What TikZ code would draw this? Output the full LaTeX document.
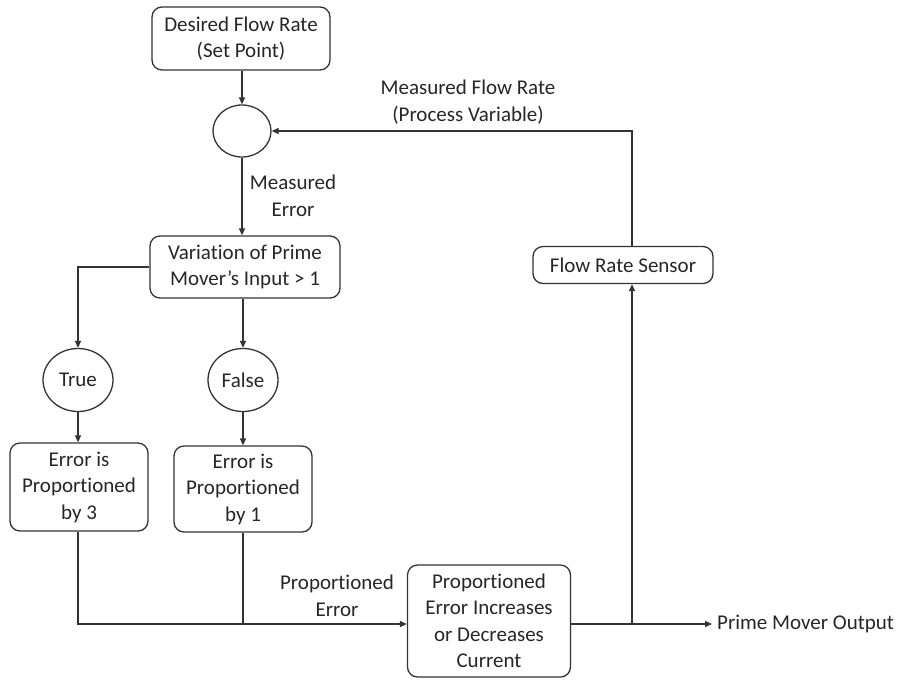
\documentclass[tikz,border=0pt]{standalone}
\usepackage{fontspec}
\setmainfont{Carlito}[Ligatures=NoCommon]
\usetikzlibrary{shapes.geometric,arrows.meta}
\begin{document}
\begin{tikzpicture}[x=1pt,y=-1pt,
  every node/.style={font=\fontsize{21}{26.5}\selectfont, align=center, inner sep=0pt, text=black!85},
  blockbox/.style={draw=black!80, line width=1.3pt, rounded corners=10pt},
  junction/.style={draw=black!80, line width=1.3pt, ellipse},
  flow/.style={draw=black!80, line width=1.3pt, -{Triangle[length=7pt,width=6pt]}},
  plain/.style={draw=black!80, line width=1.3pt}
]
\useasboundingbox (0,0) rectangle (901,681);
% blocks
\node[blockbox, minimum width=178pt, minimum height=63pt] (setpt) at (241,38.5) {Desired Flow Rate\\(Set Point)};
\node[junction, minimum width=58pt, minimum height=52pt] (sum) at (242,131) {};
\node[blockbox, minimum width=190pt, minimum height=62pt] (vary) at (245,267) {Variation of Prime\\Mover’s Input > 1};
\node[junction, minimum width=70pt, minimum height=63pt] (yes) at (78,380) {True};
\node[junction, minimum width=70pt, minimum height=63pt] (no) at (243,380) {False};
\node[blockbox, minimum width=138pt, minimum height=88pt] (gain3) at (79,487) {Error is\\Proportioned\\by 3};
\node[blockbox, minimum width=138pt, minimum height=86pt] (gain1) at (243,489) {Error is\\Proportioned\\by 1};
\node[blockbox, minimum width=163pt, minimum height=112pt] (drive) at (489,621) {Proportioned\\Error Increases\\or Decreases\\Current};
\node[blockbox, minimum width=180pt, minimum height=37pt] (sensor) at (623,265) {Flow Rate Sensor};
% labels
\node (lblerr) at (293,196) {Measured\\Error};
\node (lblpv) at (468,102) {Measured Flow Rate\\(Process Variable)};
\node (lblprop) at (337,596) {Proportioned\\Error};
\node[anchor=west] (out) at (717,624) {Prime Mover Output};
% helper points
\coordinate (merge) at (243,624);
\coordinate (tap) at (632,624);
% connectors
\draw[flow] (setpt.south -| sum) -- (sum.north);
\draw[flow] (sum.south) -- (sum.south |- vary.north);
\draw[flow] (vary.west) -| (yes.north);
\draw[flow] (vary.south -| no) -- (no.north);
\draw[flow] (yes.south) -- (yes.south |- gain3.north);
\draw[flow] (no.south) -- (gain1.north -| no);
\draw[plain] (gain3.south -| yes) |- (merge);
\draw[plain] (gain1.south -| no) -- (merge);
\draw[flow] (merge) -- (drive.west |- merge);
\draw[flow, shorten >=5pt] (drive.east |- tap) -- (out.west);
\draw[flow] (tap) -- (sensor.south -| tap);
\draw[flow] (sensor.north -| tap) |- (sum.east);
\end{tikzpicture}
\end{document}
